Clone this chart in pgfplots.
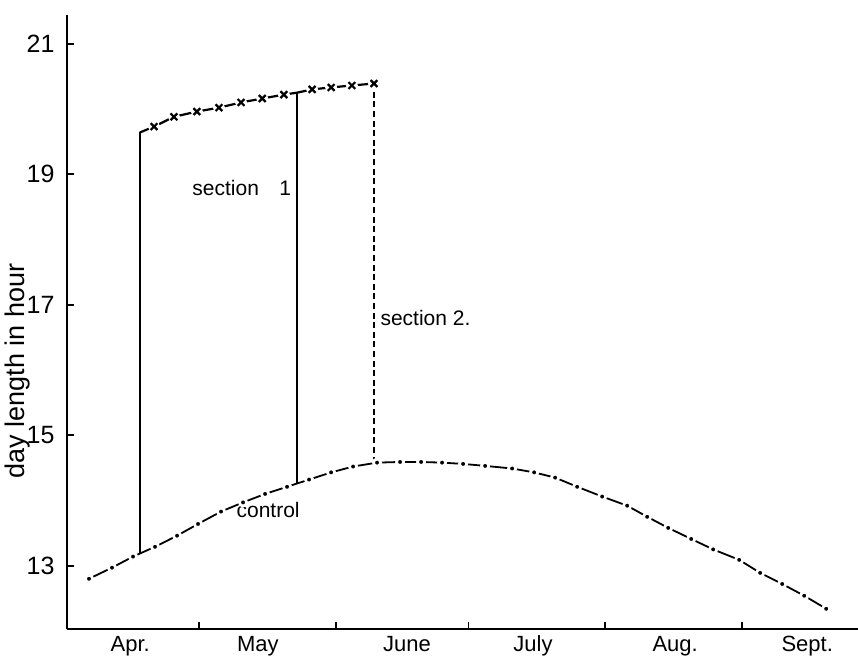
\documentclass[border=0pt]{standalone}
\usepackage{fontspec}
\setmainfont{Liberation Sans}
\usepackage{pgfplots}
\pgfplotsset{compat=1.18}
\begin{document}
\begin{tikzpicture}
\begin{axis}[
  scale only axis,
  width=395.7pt, height=307pt,
  xmin=0, xmax=179.2, ymin=12.03, ymax=21.44,
  axis lines=left,
  axis line style={-, line width=1pt},
  ytick={13,15,17,19,21},
  xtick={30,61,91,122,153},
  xticklabels={},
  tick align=inside,
  major tick length=3.5pt,
  tick style={line width=0.9pt, black},
  /pgf/number format/assume math mode=true,
  yticklabel style={font=\fontsize{12.5}{14}\selectfont, xshift=-2.5pt},
  extra x ticks={14.4,43.3,77.1,105.6,137.8,167.7},
  extra x tick labels={Apr.,May,June,July,Aug.,Sept.},
  extra x tick style={major tick length=0pt, xticklabel style={font=\fontsize{11}{13}\selectfont, anchor=base, yshift=-11pt}},
  ylabel={day length in hour},
  ylabel style={font=\fontsize{13.5}{16}\selectfont, at={(axis description cs:-0.062,0.42)}, anchor=center},
  clip=false,
]
% control
\addplot[black, line width=0.9pt, mark=*, mark size=1.8pt,
  mark options={fill=black, draw=white, line width=1.4pt, solid}] coordinates {
(5.07,12.80) (10.28,12.97) (15.04,13.14) (20.02,13.29) (25.01,13.46)
(29.76,13.64) (34.97,13.83) (39.95,13.97) (44.94,14.10) (49.92,14.21)
(54.90,14.32) (59.89,14.43) (64.87,14.52) (70.30,14.58) (75.51,14.59)
(80.27,14.59) (85.02,14.58) (89.78,14.56) (94.77,14.53) (100.88,14.49)
(105.87,14.43) (110.62,14.35) (115.61,14.21) (121.27,14.06) (126.93,13.92)
(131.46,13.75) (136.22,13.58) (141.43,13.41) (146.41,13.25) (152.30,13.09)
(157.05,12.89) (162.04,12.72) (167.02,12.54) (172.00,12.34)
};
% section line
\addplot[black, line width=1.1pt, mark=none] coordinates {
(16.6,19.64) (19.8,19.73) (24.3,19.88) (29.5,19.96) (34.5,20.02) (39.5,20.10)
(44.3,20.16) (49.2,20.22) (52.2,20.25) (55.6,20.30) (59.9,20.33) (64.6,20.36) (69.6,20.39)
};
\addplot[only marks, mark=*, mark size=2.8pt, white] coordinates {
(19.8,19.73) (24.3,19.88) (29.5,19.96) (34.5,20.02) (39.5,20.10)
(44.3,20.16) (49.2,20.22) (55.6,20.30) (59.9,20.33) (64.6,20.36) (69.6,20.39)
};
\addplot[only marks, mark=x, mark size=2.4pt, black, mark options={line width=1.1pt}] coordinates {
(19.8,19.73) (24.3,19.88) (29.5,19.96) (34.5,20.02) (39.5,20.10)
(44.3,20.16) (49.2,20.22) (55.6,20.30) (59.9,20.33) (64.6,20.36) (69.6,20.39)
};
% vertical lines
\addplot[black, line width=0.9pt] coordinates {(16.6,13.19) (16.6,19.64)};
\addplot[black, line width=0.9pt] coordinates {(52.2,14.25) (52.2,20.25)};
\addplot[black, line width=0.9pt, dash pattern=on 3pt off 1.8pt] coordinates {(69.6,14.58) (69.6,20.39)};
% labels
\node[anchor=base west, inner sep=0pt, font=\fontsize{10.5}{12}\selectfont] at (axis cs:28.4,18.67) {section};
\node[anchor=base, inner sep=0pt, font=\fontsize{10.5}{12}\selectfont] at (axis cs:49.5,18.67) {1};
\node[anchor=base west, inner sep=0pt, font=\fontsize{10.5}{12}\selectfont] at (axis cs:71.0,16.68) {section 2.};
\node[anchor=base west, inner sep=0pt, font=\fontsize{10.5}{12}\selectfont] at (axis cs:38.4,13.74) {control};
% axis break
\draw[line width=0.9pt] (axis cs:0,12.36) ++(-4.5pt,0) -- ++(9pt,0);
\draw[line width=0.9pt] (axis cs:0,12.27) ++(-4.5pt,0) -- ++(9pt,0);
\coordinate (SW) at (rel axis cs:0,0);
\coordinate (NE) at (rel axis cs:1,1);
\end{axis}
\pgfresetboundingbox
\path ([shift={(-33.3pt,-14pt)}]SW) rectangle ([shift={(0pt,7.5pt)}]NE);
\end{tikzpicture}
\end{document}
